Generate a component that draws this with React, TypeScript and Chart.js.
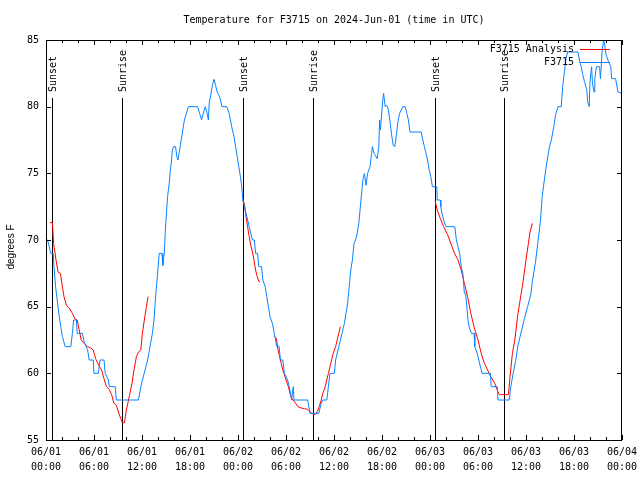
import React, { useEffect, useRef } from "react";
import { Chart, registerables } from "chart.js";

Chart.register(...registerables);

// ---------- data ----------
const obsHours = [
  0.0, 0.2, 0.4, 0.6, 0.9, 1.0, 1.2, 1.4, 1.6, 1.85, 2.05, 2.4, 3.1, 3.3, 3.45, 3.8, 3.9, 4.55, 4.75, 5.2,
  5.4, 5.9, 6.0, 6.55, 6.75, 7.25, 7.4, 7.8, 7.9, 8.65, 8.8, 11.56, 11.85, 12.27, 12.7, 13.0, 13.3, 13.5, 13.7, 13.95,
  14.15, 14.5, 14.6, 14.8, 14.9, 15.05, 15.2, 15.4, 15.55, 15.7, 15.8, 15.95, 16.2, 16.35, 16.5, 16.7, 16.9, 17.1, 17.3, 17.6,
  17.8, 18.95, 19.2, 19.45, 19.7, 19.9, 20.1, 20.3, 20.4, 20.6, 20.8, 21.0, 21.2, 21.4, 21.7, 22.0, 22.6, 22.9, 23.05, 23.3,
  23.5, 23.7, 23.9, 24.1, 24.3, 24.45, 24.6, 24.8, 25.0, 25.2, 25.4, 25.6, 25.8, 26.05, 26.2, 26.45, 26.6, 26.95, 27.1, 27.4,
  27.6, 27.8, 28.0, 28.3, 28.5, 28.7, 28.85, 29.15, 29.3, 29.6, 29.8, 30.2, 30.4, 30.6, 30.7, 30.9, 31.0, 32.7, 33.0, 34.1,
  34.4, 34.6, 35.1, 35.3, 35.5, 36.05, 36.2, 36.6, 37.0, 37.3, 37.5, 37.7, 37.9, 38.1, 38.3, 38.5, 38.7, 38.9, 39.1, 39.3,
  39.6, 39.8, 40.0, 40.2, 40.5, 40.7, 40.8, 41.0, 41.4, 41.6, 41.7, 41.8, 41.9, 42.1, 42.2, 42.4, 42.6, 42.8, 43.0, 43.2,
  43.4, 43.6, 43.8, 44.0, 44.2, 44.6, 44.9, 45.1, 45.3, 45.5, 46.9, 47.1, 47.3, 47.5, 47.7, 47.9, 48.1, 48.3, 48.85, 48.9,
  49.3, 49.35, 49.5, 49.75, 50.0, 51.1, 51.3, 51.5, 51.7, 51.9, 52.1, 52.3, 52.45, 52.6, 52.8, 53.0, 53.2, 53.5, 53.6, 53.9,
  54.1, 54.5, 55.55, 55.65, 56.4, 56.5, 57.9, 58.1, 58.4, 58.7, 59.0, 59.4, 59.8, 60.2, 60.6, 60.8, 61.2, 61.5, 61.8, 62.0,
  62.2, 62.5, 62.9, 63.2, 63.5, 63.7, 64.0, 64.4, 64.6, 64.8, 65.0, 65.2, 66.5, 66.7, 66.9, 67.1, 67.3, 67.6, 67.7, 67.9,
  68.0, 68.2, 68.3, 68.5, 68.6, 68.8, 69.2, 69.3, 69.4, 69.5, 69.7, 69.8, 70.0, 70.3, 70.6, 70.7, 71.2, 71.5, 72.0,
];
const obsTemps = [
  70.0, 70.0, 69.5, 69.0, 69.0, 68.0, 66.5, 65.5, 64.5, 63.5, 62.75, 62.0, 62.0, 63.0, 64.0, 64.0, 63.0, 63.0, 62.4, 61.75,
  61.0, 61.0, 60.0, 60.0, 61.0, 61.0, 60.0, 59.5, 59.0, 59.0, 58.0, 58.0, 59.0, 60.0, 61.0, 62.0, 63.0, 64.0, 65.75, 67.5,
  69.0, 69.0, 68.1, 69.1, 70.5, 72.0, 73.25, 74.25, 75.25, 76.0, 76.75, 77.0, 77.0, 76.25, 76.0, 76.75, 77.5, 78.25, 79.0, 79.6,
  80.0, 80.0, 79.5, 79.0, 79.6, 80.0, 79.6, 79.0, 80.25, 80.9, 81.6, 82.05, 81.6, 81.1, 80.75, 80.0, 80.0, 79.5, 79.0, 78.25,
  77.75, 77.0, 76.25, 75.5, 74.75, 74.1, 73.0, 72.5, 72.0, 71.5, 71.0, 70.5, 70.0, 70.0, 69.0, 69.0, 68.0, 68.0, 67.0, 66.5,
  65.75, 65.0, 64.25, 63.75, 63.1, 62.5, 62.0, 62.0, 61.0, 61.0, 60.0, 59.5, 59.0, 58.4, 58.0, 59.0, 58.0, 58.0, 57.0, 57.0,
  57.75, 58.0, 58.0, 59.0, 60.0, 60.0, 61.0, 62.0, 63.0, 63.75, 64.5, 65.25, 66.5, 67.75, 68.5, 69.75, 70.0, 70.5, 71.25, 72.5,
  74.5, 75.0, 74.1, 75.0, 75.5, 76.5, 77.0, 76.5, 76.1, 77.0, 79.0, 78.25, 79.0, 80.5, 81.0, 80.0, 80.1, 79.75, 78.9, 77.9,
  77.1, 77.0, 77.9, 78.9, 79.5, 80.0, 80.0, 79.5, 79.0, 78.1, 78.1, 77.5, 77.0, 76.5, 76.0, 75.25, 74.75, 74.0, 74.0, 73.0,
  73.0, 72.5, 72.0, 71.4, 71.0, 71.0, 70.0, 69.5, 69.0, 68.0, 67.5, 66.0, 66.0, 65.0, 63.75, 63.25, 63.0, 63.0, 62.0, 61.5,
  61.0, 60.0, 60.0, 59.0, 59.0, 58.0, 58.0, 59.0, 60.0, 60.9, 62.1, 63.1, 64.1, 65.0, 65.9, 66.9, 68.4, 69.9, 71.4, 73.1,
  74.1, 75.4, 76.9, 77.6, 78.6, 79.4, 80.0, 80.0, 81.6, 82.6, 83.6, 84.1, 84.1, 83.4, 83.0, 82.4, 81.9, 81.25, 80.4, 80.0,
  81.9, 83.0, 81.8, 81.1, 82.1, 83.0, 83.0, 82.1, 82.9, 84.1, 85.0, 84.8, 83.9, 83.4, 83.0, 82.1, 82.1, 81.1, 81.0,
];

const anaHours = [
  0.5, 0.8, 0.95, 1.25, 1.5, 1.8, 2.05, 2.25, 2.55, 2.9, 3.3, 3.65, 3.9, 4.1, 4.4, 4.75, 5.2, 5.6, 5.9, 6.2,
  6.6, 6.95, 7.25, 7.55, 7.9, 8.2, 8.5, 8.8, 9.05, 9.35, 9.55, 9.8, 10.05, 10.4, 10.75, 11.0, 11.3, 11.55, 11.85, 12.05,
  12.35, 12.55, 12.75, 13.0,
  24.6, 24.8, 25.0, 25.2, 25.4, 25.6, 25.8, 26.0, 26.2, 26.4, 26.6, 26.75, 27.5,
  28.55, 28.8, 29.0, 29.2, 29.4, 29.6, 29.8, 30.0, 30.3, 30.5, 30.7, 30.9, 31.2, 31.5, 31.9, 32.3, 32.7, 33.2, 33.6, 33.8,
  34.0, 34.2, 34.4, 34.6, 34.9, 35.1, 35.3, 35.5, 35.7, 35.9, 36.2, 36.4, 36.6, 36.8, 40.0,
  48.65, 48.9, 49.3, 49.7, 50.2, 50.6, 51.0, 51.5, 51.9, 52.3, 52.7, 53.1, 53.5, 54.0, 54.4, 54.8, 55.2, 55.6, 56.1, 56.5,
  56.7, 57.8, 58.0, 58.3, 58.6, 59.0, 59.4, 59.6, 60.0, 60.3, 60.5, 60.8,
];
const anaTemps: (number | null)[] = [
  71.3, 71.3, 69.75, 68.5, 67.6, 67.5, 66.5, 65.75, 65.1, 64.9, 64.5, 64.05, 64.0, 63.4, 62.5, 62.25, 62.0, 61.9, 61.75, 61.1,
  60.6, 60.25, 59.6, 59.0, 58.8, 58.4, 57.75, 57.6, 57.1, 56.6, 56.3, 56.3, 57.25, 58.25, 59.25, 60.25, 61.25, 61.6, 61.75, 63.0,
  64.25, 65.0, 65.75, null,
  73.0, 72.75, 71.75, 71.0, 70.25, 69.6, 69.1, 68.5, 67.75, 67.25, 66.9, 66.9, null,
  62.75, 62.6, 61.75, 61.25, 60.75, 60.25, 59.9, 59.5, 59.0, 58.5, 58.1, 58.0, 57.75, 57.5, 57.4, 57.35, 57.3, 57.0, 56.9, 57.0,
  57.25, 57.6, 58.0, 58.5, 59.0, 59.5, 60.0, 60.5, 61.0, 61.5, 62.0, 62.5, 63.0, 63.5, null,
  72.9, 72.25, 71.6, 71.0, 70.4, 69.75, 69.1, 68.5, 67.75, 66.75, 65.75, 64.5, 63.5, 62.5, 61.5, 60.75, 60.25, 59.75, 59.25, 58.6,
  58.4, 58.4, 59.75, 61.5, 62.5, 64.5, 66.0, 66.75, 68.5, 69.75, 70.6, 71.25,
];

const sunsetHours = [0.7, 24.65, 48.68];
const sunriseHours = [9.45, 33.4, 57.3];

const tickDays = ["06/01", "06/01", "06/01", "06/01", "06/02", "06/02", "06/02", "06/02", "06/03", "06/03", "06/03", "06/03", "06/04"];
const tickTimes = ["00:00", "06:00", "12:00", "18:00", "00:00", "06:00", "12:00", "18:00", "00:00", "06:00", "12:00", "18:00", "00:00"];

const titleText = "Temperature for F3715 on 2024-Jun-01 (time in UTC)";
const yTitle = "degrees F";
const seriesNames = ["F3715 Analysis", "F3715"];
const seriesColors = ["#ff0000", "#0a82ff"];

const MONO = "'DejaVu Sans Mono', 'Liberation Mono', monospace";

const decorPlugin = {
  id: "decor",
  beforeDatasetsDraw(chart: any) {
    const { ctx, chartArea, scales } = chart;
    const xs = scales.x;
    ctx.save();
    ctx.strokeStyle = "#000";
    ctx.fillStyle = "#000";
    ctx.lineWidth = 1;
    ctx.font = `10px ${MONO}`;
    const drawSun = (h: number, label: string) => {
      const x = Math.round(xs.getPixelForValue(h)) + 0.5;
      ctx.beginPath();
      ctx.moveTo(x, chartArea.top + 58);
      ctx.lineTo(x, chartArea.bottom);
      ctx.stroke();
      ctx.save();
      ctx.translate(x + 1, chartArea.top + 52);
      ctx.rotate(-Math.PI / 2);
      ctx.textAlign = "left";
      ctx.textBaseline = "middle";
      ctx.fillText(label, 0, 0);
      ctx.restore();
    };
    sunsetHours.forEach((h) => drawSun(h, "Sunset"));
    sunriseHours.forEach((h) => drawSun(h, "Sunrise"));
    ctx.restore();
  },
  afterDraw(chart: any) {
    const { ctx, chartArea, scales } = chart;
    const xs = scales.x;
    const ys = scales.y;
    const { left, right, top, bottom } = chartArea;
    ctx.save();
    ctx.strokeStyle = "#000";
    ctx.lineWidth = 1;
    ctx.strokeRect(left + 0.5, top + 0.5, right - left - 1, bottom - top);
    ctx.beginPath();
    for (let h = 0; h <= 72; h += 2) {
      const x = Math.round(xs.getPixelForValue(h)) + 0.5;
      const len = h % 6 === 0 ? 5 : 3;
      ctx.moveTo(x, bottom);
      ctx.lineTo(x, bottom - len);
      ctx.moveTo(x, top);
      ctx.lineTo(x, top + len);
    }
    for (let v = 55; v <= 85; v += 5) {
      const y = Math.round(ys.getPixelForValue(v)) + 0.5;
      ctx.moveTo(left, y);
      ctx.lineTo(left + 5, y);
      ctx.moveTo(right, y);
      ctx.lineTo(right - 5, y);
    }
    ctx.stroke();

    // legend
    ctx.font = `10px ${MONO}`;
    ctx.fillStyle = "#000";
    ctx.textAlign = "right";
    ctx.textBaseline = "middle";
    seriesNames.forEach((name, i) => {
      const y = top + 9.5 + i * 13;
      ctx.fillText(name, right - 48, y);
      ctx.strokeStyle = seriesColors[i];
      ctx.beginPath();
      ctx.moveTo(right - 42, y);
      ctx.lineTo(right - 12, y);
      ctx.stroke();
    });

    // y axis title
    ctx.fillStyle = "#000";
    ctx.font = "10px 'Liberation Sans', Arial, sans-serif";
    ctx.save();
    ctx.translate(11, (top + bottom) / 2 + 7);
    ctx.rotate(-Math.PI / 2);
    ctx.textAlign = "center";
    ctx.textBaseline = "middle";
    ctx.fillText(yTitle, 0, 0);
    ctx.restore();
    ctx.restore();
  },
};

export default function App() {
  const ref = useRef<HTMLCanvasElement>(null);
  useEffect(() => {
    const canvas = ref.current;
    if (!canvas) return;
    const chart = new Chart(canvas, {
      type: "line",
      data: {
        datasets: [
          {
            label: seriesNames[0],
            data: anaHours.map((h, i) => ({ x: h, y: anaTemps[i] })) as any,
            borderColor: seriesColors[0],
            borderWidth: 1,
            pointRadius: 0,
            tension: 0,
            spanGaps: false,
            order: 2,
          },
          {
            label: seriesNames[1],
            data: obsHours.map((h, i) => ({ x: h, y: obsTemps[i] })),
            borderColor: seriesColors[1],
            borderWidth: 1,
            pointRadius: 0,
            tension: 0,
            order: 1,
          },
        ],
      },
      options: {
        responsive: false,
        devicePixelRatio: 1,
        animation: false,
        layout: { padding: { left: 0, right: 18, top: 0, bottom: 0 } },
        font: { family: MONO, size: 10 } as any,
        plugins: {
          legend: { display: false },
          tooltip: { enabled: false },
          title: {
            display: true,
            text: titleText,
            color: "#000",
            fullSize: false,
            font: { family: MONO, size: 10, weight: "normal", lineHeight: 1.2 },
            padding: { top: 14, bottom: 14 },
          },
        },
        scales: {
          x: {
            type: "linear",
            min: 0,
            max: 72,
            grid: { display: false, drawTicks: false },
            border: { display: false },
            afterFit: (s: any) => {
              s.height = 40;
              s.paddingLeft = 15;
              s.paddingRight = 15;
            },
            ticks: {
              stepSize: 6,
              autoSkip: false,
              maxRotation: 0,
              minRotation: 0,
              padding: 5,
              color: "#000",
              font: { family: MONO, size: 10, lineHeight: 1.5 },
              callback: (v: any) => {
                const i = Math.round(Number(v) / 6);
                return [tickDays[i], tickTimes[i]];
              },
            },
          },
          y: {
            type: "linear",
            min: 55,
            max: 85,
            grid: { display: false, drawTicks: false },
            border: { display: false },
            afterFit: (s: any) => {
              s.width = 46;
            },
            ticks: {
              stepSize: 5,
              padding: 7,
              color: "#000",
              font: { family: MONO, size: 10 },
            },
          },
        },
      },
      plugins: [decorPlugin],
    });
    return () => chart.destroy();
  }, []);
  return (
    <div style={{ position: "absolute", left: 0, top: 0, width: 640, height: 480, background: "#fff" }}>
      <canvas ref={ref} width={640} height={480} style={{ display: "block", width: 640, height: 480 }} />
    </div>
  );
}
